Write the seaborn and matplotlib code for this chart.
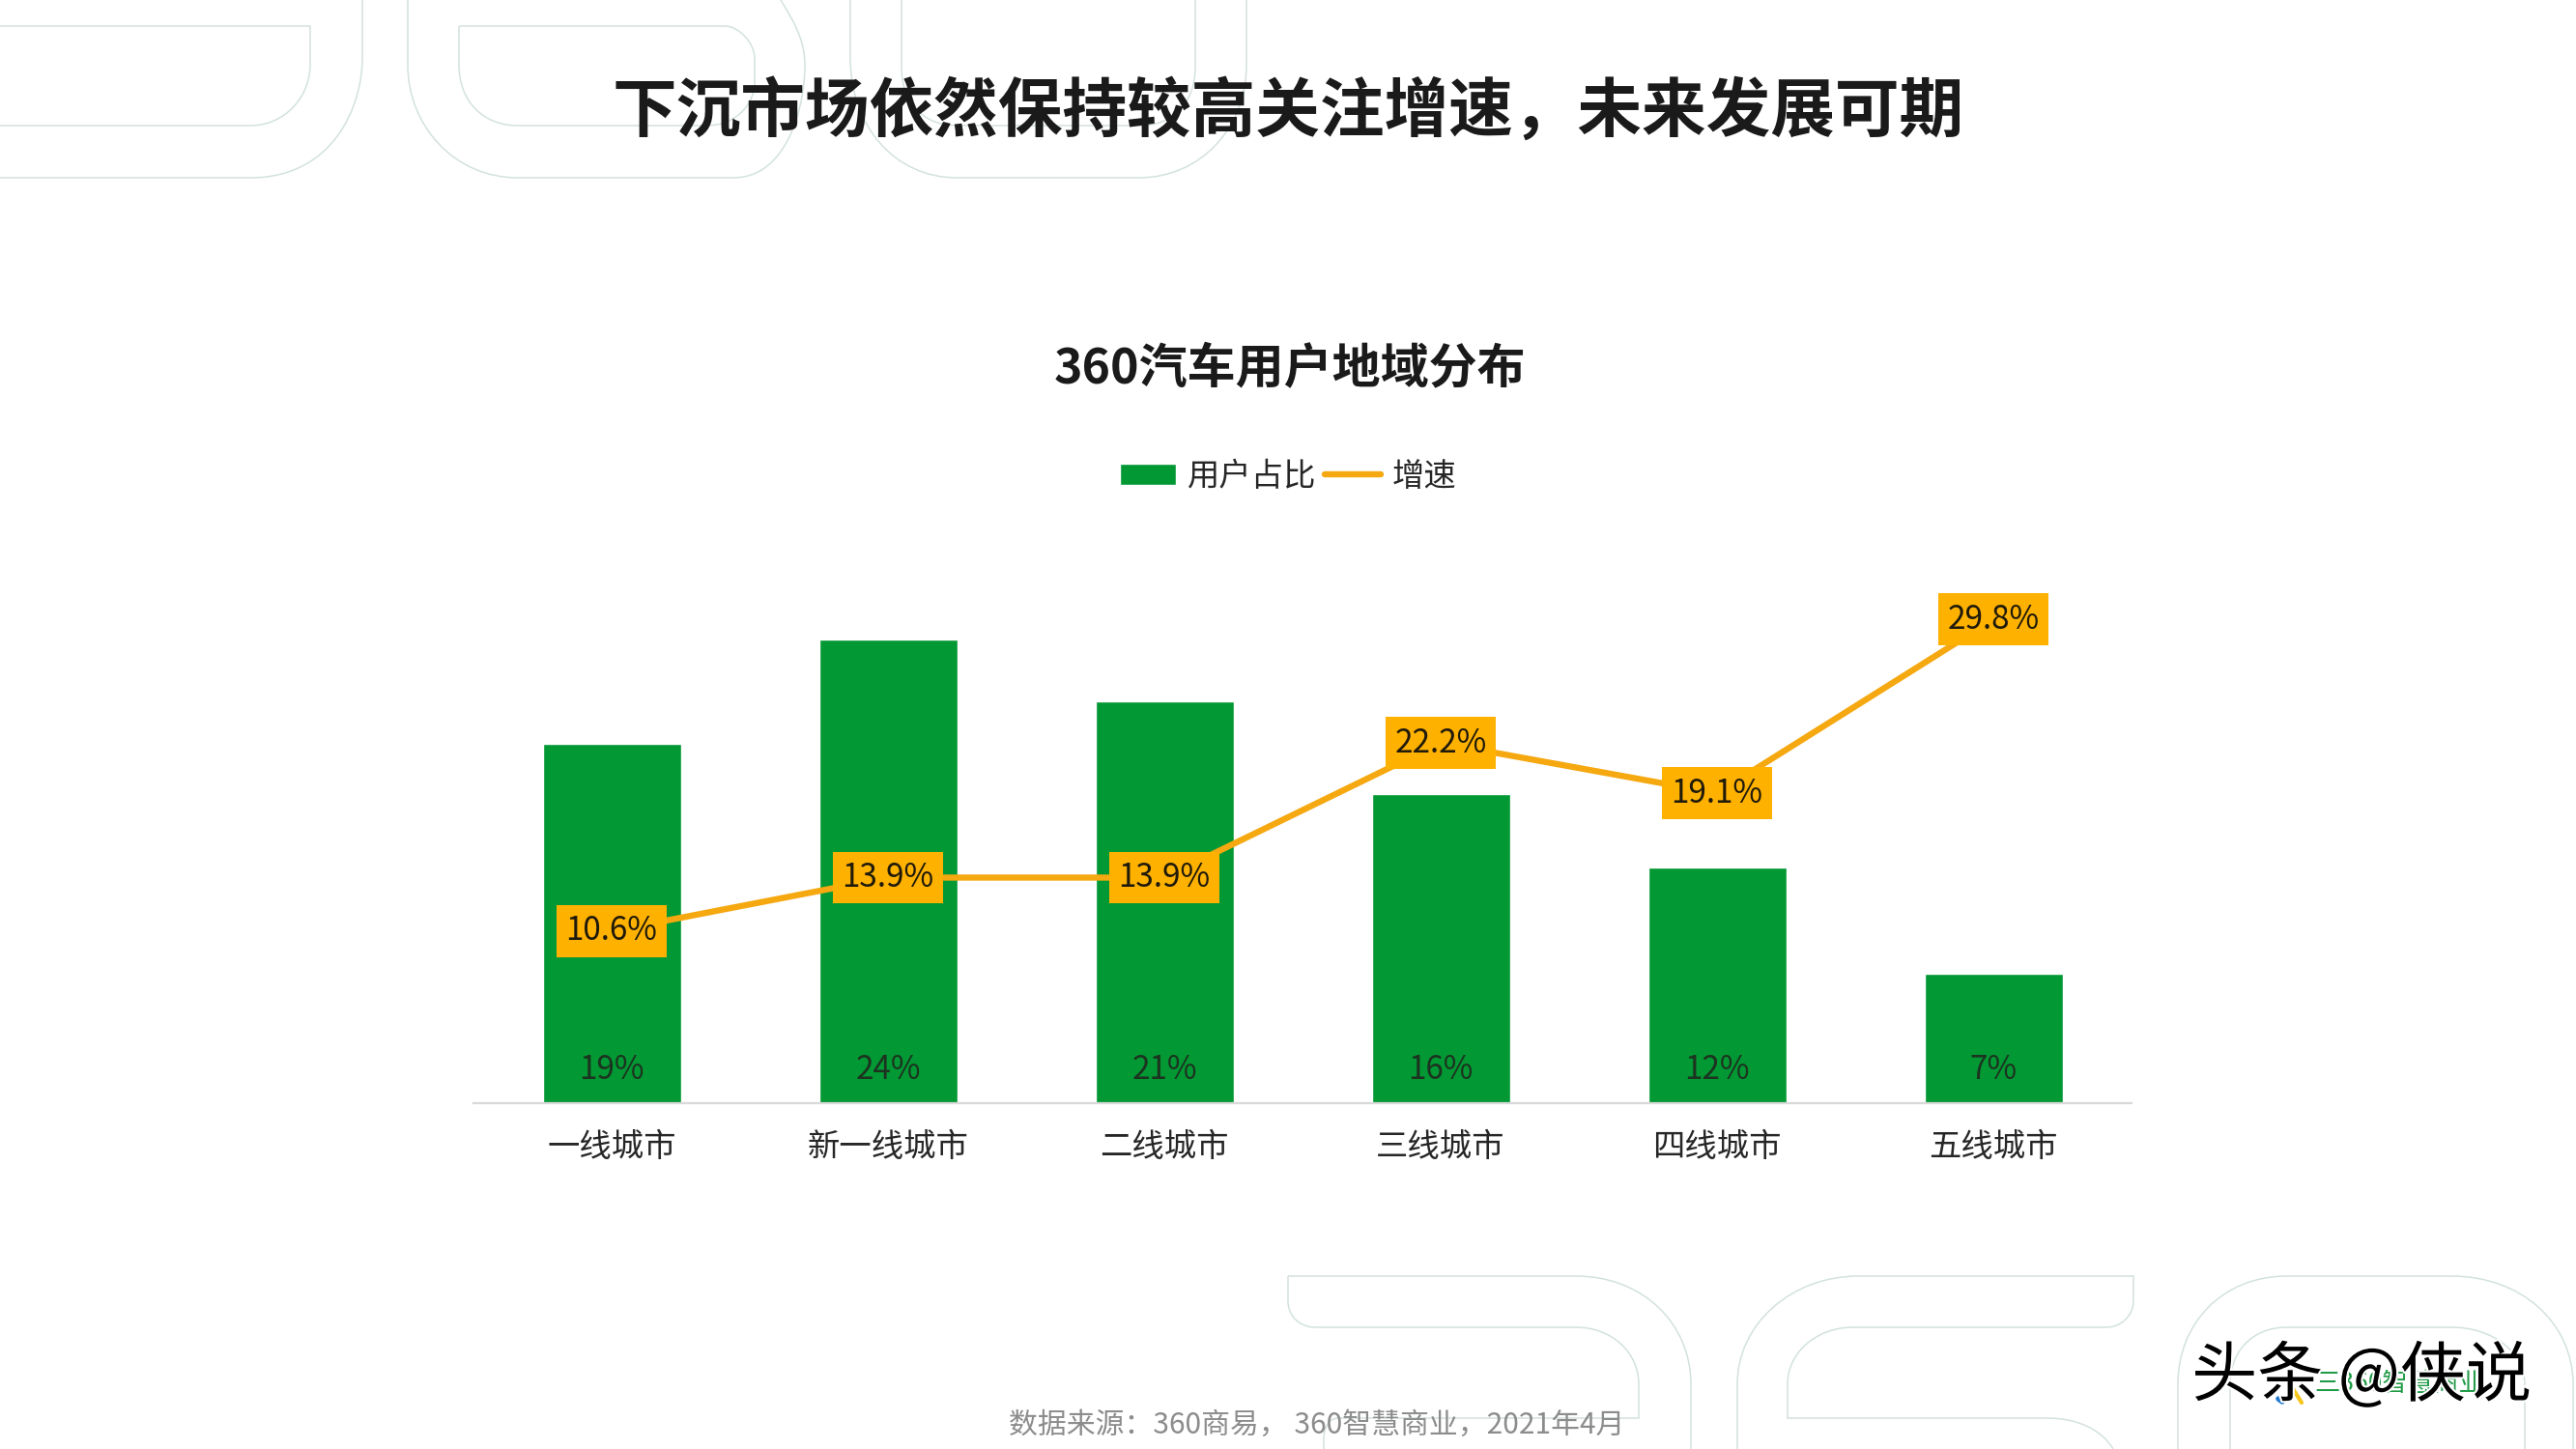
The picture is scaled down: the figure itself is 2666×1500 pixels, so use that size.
import matplotlib
matplotlib.use("Agg")
import matplotlib.patheffects as pe
import matplotlib.pyplot as plt
import pandas as pd
import seaborn as sns
from matplotlib.path import Path
from matplotlib.patches import PathPatch

categories = ["一线城市", "新一线城市", "二线城市", "三线城市", "四线城市", "五线城市"]
user_share = [18.6, 24.0, 20.8, 16.0, 12.2, 6.7]
growth = [10.6, 13.9, 13.9, 22.2, 19.1, 29.8]

GREEN = "#029833"
LINE = "#f5a80f"
BOX = "#ffb100"
DARK = "#262626"
OUTLINE = "#d3e2dd"
W, H = 2666, 1500

# digit outlines behind the slide, each as (start, then segments); a segment with 3 points is a curve
outlines = [
    [(0, 184), (259, 184), [(345, 184), (375, 110), (375, 60)], (375, 0)],
    [(0, 130), (259, 130), [(295, 130), (321, 100), (321, 67)], (321, 27), (0, 27)],
    [(422, 0), (422, 67), [(422, 130), (470, 184), (536, 184)], (759, 184),
     [(815, 184), (833, 110), (833, 67)], [(833, 40), (820, 20), (808, 0)]],
    [(475, 27), (475, 67), [(475, 105), (500, 130), (536, 130)], (730, 130),
     [(765, 130), (781, 105), (781, 85)], (781, 60), [(781, 45), (765, 27), (750, 27)], (475, 27)],
    [(880, 0), (880, 60), [(880, 130), (925, 184), (991, 184)], (1178, 184),
     [(1245, 184), (1290, 130), (1290, 67)], (1290, 0)],
    [(933, 0), (933, 70), [(933, 105), (955, 130), (990, 130)], (1180, 130),
     [(1215, 130), (1237, 105), (1237, 70)], (1237, 0)],
    [(1333, 1321), (1631, 1321), [(1700, 1321), (1750, 1370), (1750, 1433)], (1750, 1500)],
    [(1333, 1321), (1333, 1347), [(1333, 1362), (1345, 1374), (1361, 1374)], (1631, 1374),
     [(1668, 1374), (1696, 1400), (1696, 1433)], (1696, 1468), (1385, 1468),
     [(1375, 1468), (1370, 1478), (1370, 1490)], (1370, 1500)],
    [(1798, 1500), (1798, 1433), [(1798, 1370), (1855, 1321), (1923, 1321)], (2208, 1321), (2208, 1347),
     [(2208, 1362), (2195, 1374), (2180, 1374)], (1918, 1374), [(1880, 1374), (1850, 1400), (1850, 1433)],
     (1850, 1468), (2119, 1468), [(2150, 1468), (2175, 1480), (2187, 1500)]],
    [(2254, 1500), (2254, 1433), [(2254, 1370), (2300, 1321), (2367, 1321)], (2537, 1321),
     [(2610, 1321), (2663, 1370), (2663, 1433)], (2663, 1500)],
    [(2308, 1500), (2308, 1433), [(2308, 1400), (2330, 1374), (2367, 1374)], (2537, 1374),
     [(2580, 1374), (2613, 1400), (2613, 1433)], (2613, 1500)],
]


def draw_outline(ax, segments):
    verts, codes = [segments[0]], [Path.MOVETO]
    for seg in segments[1:]:
        if isinstance(seg, list):
            verts += seg
            codes += [Path.CURVE4] * 3
        else:
            verts.append(seg)
            codes.append(Path.LINETO)
    ax.add_patch(PathPatch(Path(verts, codes), fill=False, edgecolor=OUTLINE, lw=1.1))


sns.set_theme(style="white")
plt.rcParams["font.family"] = ["Noto Sans CJK SC", "DejaVu Sans"]
plt.rcParams["axes.unicode_minus"] = False

fig = plt.figure(figsize=(W / 100, H / 100), dpi=100, facecolor="white")

# slide layer in pixel coordinates
bg = fig.add_axes([0, 0, 1, 1], zorder=0)
bg.set_xlim(0, W)
bg.set_ylim(H, 0)
bg.axis("off")
for shape in outlines:
    draw_outline(bg, shape)

# bars and line share one baseline, with separate scales
ax = fig.add_axes([490 / W, 1 - 1142 / H, 1716 / W, 542 / H], zorder=1)
ax.patch.set_alpha(0)
data = pd.DataFrame({"city": categories, "share": user_share, "growth": growth})
sns.barplot(data=data, x="city", y="share", color=GREEN, saturation=1, width=0.5, ax=ax, label="用户占比")
ax.get_legend().remove()
ax.set_xlim(-0.5, 5.5)
ax.set_ylim(0, 27.1)
ax.set_xlabel("")
ax.set_ylabel("")
ax.set_yticks([])
ax.tick_params(axis="x", length=0, pad=20.5, labelsize=24, labelcolor=DARK)
sns.despine(ax=ax, left=True)
ax.spines["bottom"].set_color("#d9d9d9")
ax.spines["bottom"].set_linewidth(1.6)
for i, v in enumerate(user_share):
    ax.annotate(f"{v:.0f}%", (i, 0), xytext=(0, 25), textcoords="offset points",
                ha="center", va="center", fontsize=24, color="#1c3320")

ax2 = ax.twinx()
ax2.patch.set_alpha(0)
sns.lineplot(data=data, x="city", y="growth", color=LINE, lw=4.6, sort=False, ax=ax2, label="增速")
ax2.set_ylim(0, 32.26)
ax2.set_xlim(-0.5, 5.5)
ax2.set_xlabel("")
ax2.set_ylabel("")
ax2.set_yticks([])
ax2.get_legend().remove()
sns.despine(ax=ax2, left=True, right=True, bottom=True)
for i, v in enumerate(growth):
    ax2.text(i, v, f"{v:.1f}%", ha="center", va="center", fontsize=24, color="#1f1a0a",
             bbox=dict(boxstyle="square,pad=0.28", fc=BOX, ec="none"))

bar_handles, bar_labels = ax.get_legend_handles_labels()
line_handles, line_labels = ax2.get_legend_handles_labels()
fig.legend(bar_handles + line_handles, bar_labels + line_labels, loc="center",
           bbox_to_anchor=(0.5, 1 - 493 / H), ncol=2, frameon=False, fontsize=24,
           labelcolor=DARK, handlelength=1.75, handleheight=0.65, handletextpad=0.35,
           columnspacing=0.25, borderpad=0, borderaxespad=0)

# slide texts
bg.text(1333, 117, "下沉市场依然保持较高关注增速，未来发展可期", ha="center", va="center",
        fontsize=48, fontweight="bold", color="#1a1a1a", zorder=5)
bg.text(1335, 383, "360汽车用户地域分布", ha="center", va="center",
        fontsize=36, fontweight="bold", color="#1a1a1a")
bg.text(1363, 1475, "数据来源：360商易， 360智慧商业，2021年4月", ha="center", va="center",
        fontsize=21.5, color="#8c8c8c")

# logo under the watermark
bg.text(2483, 1433, "三360智慧商业", ha="center", va="center", fontsize=19, color="#1f9a45")
bg.plot([2372, 2382], [1436, 1452], color="#f5c518", lw=3)
bg.plot([2358, 2362], [1448, 1451], color="#1f78d1", lw=4)

# watermark with its white halo
bg.text(2444, 1426, "头条 @侠说", ha="center", va="center", fontsize=49, color="black", zorder=6,
        path_effects=[pe.withStroke(linewidth=3, foreground="white")])

fig.savefig("out.png", dpi=100)
plt.close(fig)
